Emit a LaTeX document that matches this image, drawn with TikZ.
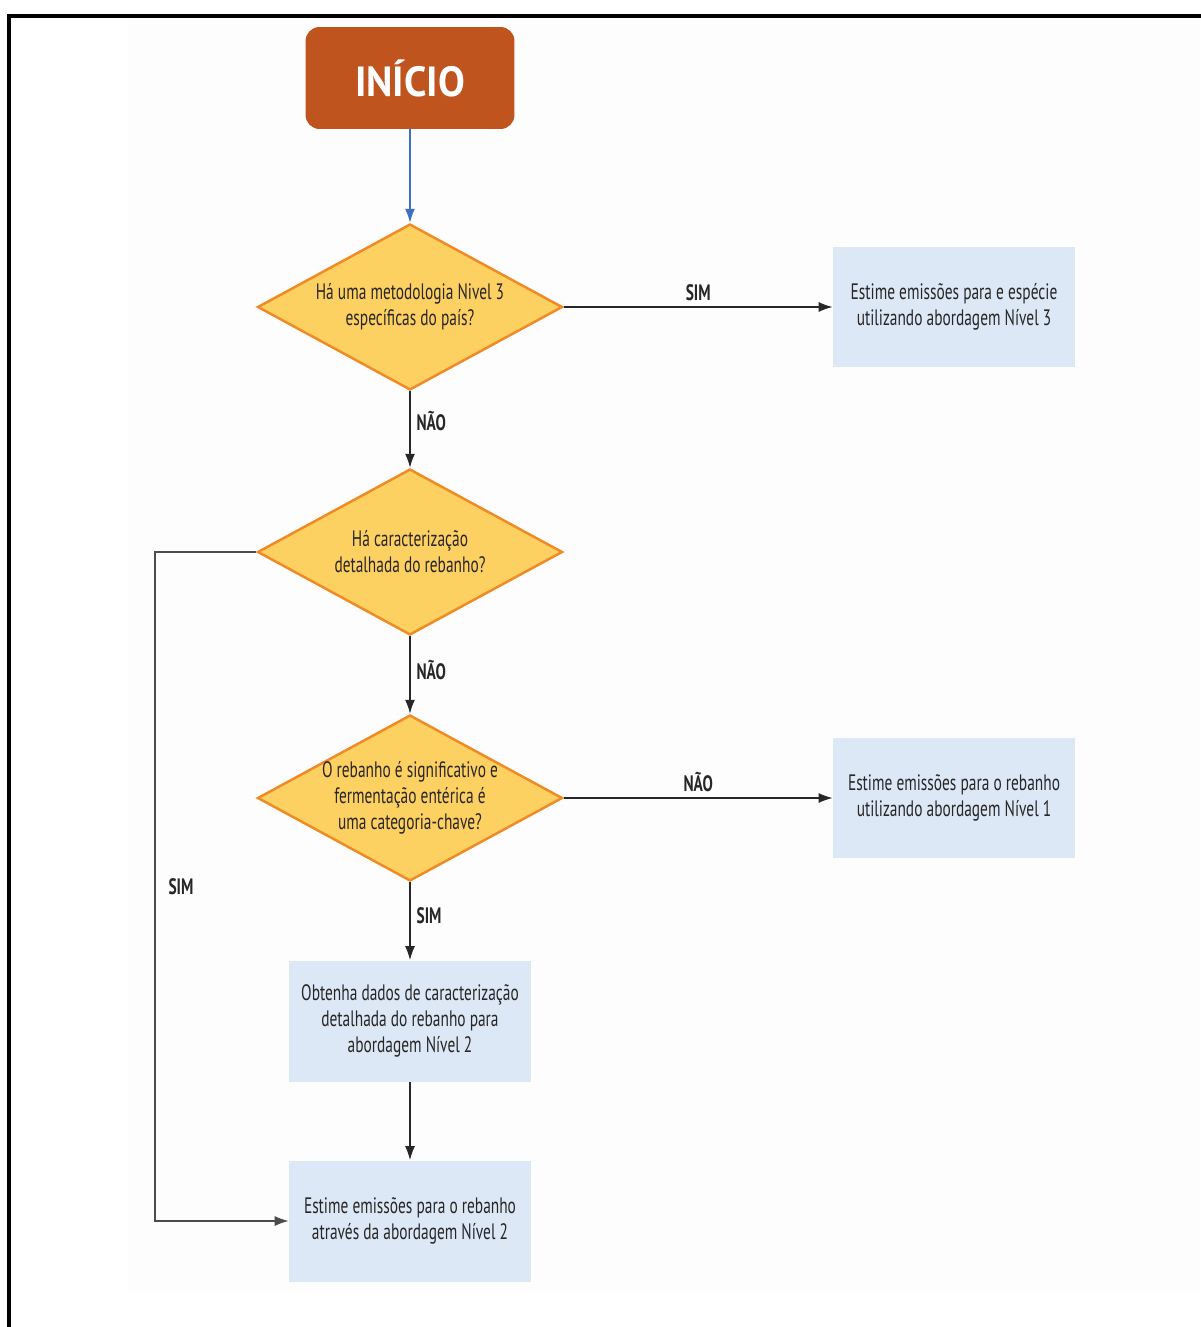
\documentclass[tikz,border=0pt]{standalone}
\usepackage{fontspec}
\setmainfont{PT Sans}[FakeStretch=0.69]
\newfontfamily\titlefont{PT Sans}[FakeStretch=0.95]
\usepackage{xcolor}
\usetikzlibrary{
    arrows,
    arrows.meta,
    shapes,
    positioning
}
\definecolor{iniciofill}{RGB}{192,84,31}
\definecolor{diafill}{RGB}{253,208,98}
\definecolor{diaedge}{RGB}{240,138,36}
\definecolor{boxfill}{RGB}{220,232,245}
\definecolor{setaazul}{RGB}{63,111,191}
\definecolor{texto}{RGB}{40,38,38}
\definecolor{fundo}{RGB}{253,253,253}
\tikzset{inicio/.style={rectangle, rounded corners=0.28cm, fill=iniciofill, text=white, minimum width=4.18cm, minimum height=2.04cm, font=\titlefont\bfseries\fontsize{24}{28}\selectfont}}
\tikzset{pergunta/.style={diamond, draw=diaedge, fill=diafill, line width=1.4pt, inner sep=-6pt, aspect=1.84, minimum width=6.1cm, minimum height=3.32cm, align=center, text=texto, font=\fontsize{12.7}{14.7}\selectfont}}
\tikzset{resultado/.style={rectangle, fill=boxfill, minimum width=4.84cm, minimum height=2.42cm, align=center, text=texto, font=\fontsize{12.7}{14.7}\selectfont}}
\tikzset{rotulo/.style={font=\bfseries\fontsize{12.7}{14}\selectfont, text=texto}}

\begin{document}
\begin{tikzpicture}[x=0.02cm, y=-0.02cm, >={Latex[length=0.28cm, width=0.2cm]}]
                        \useasboundingbox (0, 0) rectangle (1200, 1327);
                        \fill[white] (0, 0) rectangle (1200, 1327);
                        \fill[fundo] (128, 18) rectangle (1200, 1292);
                        \draw[line width=0.09cm] (9, 16) rectangle (1240, 1360);

                        \node[inicio] (ini) at (410, 78) {INÍCIO};

                        \node[pergunta] (q1) at (410, 307) {Há uma metodologia Nivel 3\\específicas do país?};
                        \node[pergunta] (q2) at (410, 552) {Há caracterização\\detalhada do rebanho?};
                        \node[pergunta] (q3) at (410, 798) {O rebanho é significativo e\\fermentação entérica é\\uma categoria-chave?};

                        \node[resultado] (r1) at (954, 307) {Estime emissões para e espécie\\utilizando abordagem Nível 3};
                        \node[resultado] (r2) at (954, 798) {Estime emissões para o rebanho\\utilizando abordagem Nível 1};
                        \node[resultado] (r3) at (410, 1021) {Obtenha dados de caracterização\\detalhada do rebanho para\\abordagem Nível 2};
                        \node[resultado] (r4) at (410, 1221) {Estime emissões para o rebanho\\através da abordagem Nível 2};

                        \coordinate (sa) at (155, 552);
                        \coordinate (sb) at (155, 1221);

                        \draw[line width=0.85pt, texto]
                        (ini) edge[->, setaazul] (q1)
                        (q1) edge[->] node[rotulo, above]{SIM} (r1)
                        (q1) edge[->] node[rotulo, right, yshift=5pt]{NÃO} (q2)
                        (q2) edge[->] node[rotulo, right, yshift=3pt]{NÃO} (q3)
                        (q3) edge[->] node[rotulo, above]{NÃO} (r2)
                        (q3) edge[->] node[rotulo, right, yshift=3pt]{SIM} (r3)
                        (r3) edge[->] (r4);

                        \draw[->, line width=0.7pt, black!70] (q2.west) -- (sa) -- node[rotulo, right=4pt]{SIM} (sb) -- (r4.west);
                    \end{tikzpicture}
\end{document}
